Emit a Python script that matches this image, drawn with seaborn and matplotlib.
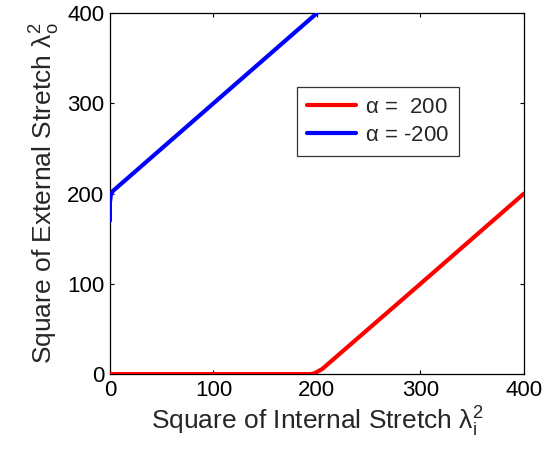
import pandas as pd
import matplotlib
matplotlib.use("Agg")
import matplotlib.pyplot as plt
import seaborn as sns

# curve for alpha = 200 (red) and alpha = -200 (blue)
x_pos = [0, 194, 198, 201, 205, 300, 400]
y_pos = [0, 0, 1, 3, 5.5, 100, 200]
x_neg = [0, 0, 1, 3, 100, 200]
y_neg = [170, 190, 199, 203, 300, 400]
labels = [r"$\mathregular{\alpha}$ =  200", r"$\mathregular{\alpha}$ = -200"]
colors = ["#ff0000", "#0000ff"]

df = pd.concat([
    pd.DataFrame({"x": x_pos, "y": y_pos, "case": labels[0]}),
    pd.DataFrame({"x": x_neg, "y": y_neg, "case": labels[1]}),
])

sns.set_style("white")
plt.rcParams["font.family"] = ["Liberation Sans", "DejaVu Sans"]
plt.rcParams["mathtext.fontset"] = "custom"
plt.rcParams["mathtext.rm"] = "Liberation Sans"
plt.rcParams["mathtext.it"] = "Liberation Sans:italic"

fig = plt.figure(figsize=(5.44, 4.54), dpi=100)
ax = fig.add_axes([0.202, 0.176, 0.761, 0.795])

sns.lineplot(data=df, x="x", y="y", hue="case", palette=colors, sort=False,
             estimator=None, linewidth=3, ax=ax)
for line in ax.get_lines():
    line.set_zorder(3)

ax.set_xlim(0, 400)
ax.set_ylim(0, 400)
ax.set_xticks([0, 100, 200, 300, 400])
ax.set_yticks([0, 100, 200, 300, 400])
ax.tick_params(direction="in", length=3, width=0.8, labelsize=16,
               top=True, right=True, bottom=True, left=True, pad=4, colors="black")
for s in ax.spines.values():
    s.set_color("black")
    s.set_linewidth(0.9)
    s.set_zorder(2)

ax.set_xlabel(r"Square of Internal Stretch $\mathregular{\lambda_i^2}$", fontsize=19, labelpad=3)
ax.set_ylabel(r"Square of External Stretch $\mathregular{\lambda_o^2}$", fontsize=19, labelpad=4)

leg = ax.legend(loc="upper left", bbox_to_anchor=(0.453, 0.795), fontsize=16,
                handlelength=2.2, frameon=True, fancybox=False, borderpad=0.45,
                labelspacing=0.3, handletextpad=0.4, borderaxespad=0)
leg.get_frame().set_edgecolor("black")
leg.get_frame().set_linewidth(0.9)
for line in leg.get_lines():
    line.set_linewidth(3)

fig.savefig("out.png", dpi=100)
